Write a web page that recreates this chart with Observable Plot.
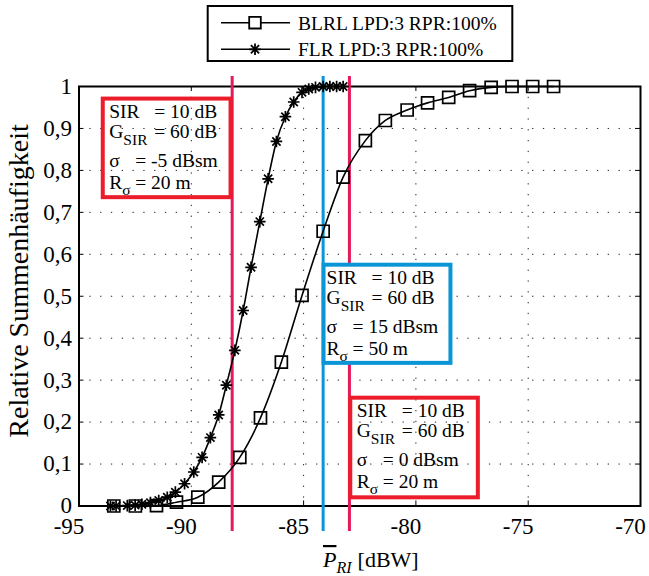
<!DOCTYPE html>
<html><head><meta charset="utf-8">
<script src="https://cdn.jsdelivr.net/npm/d3@7"></script>
<script src="https://cdn.jsdelivr.net/npm/@observablehq/plot@0.6"></script>
<style>body{margin:0;background:#fff}</style>
</head><body><div id="chart"></div>
<script>
// ---------- data ----------
const seriesNames = ["BLRL LPD:3 RPR:100%", "FLR LPD:3 RPR:100%"];
const blrlX = [-93.45, -92.49, -91.55, -90.66, -89.71, -88.78, -87.84, -86.92, -85.99, -85.07, -84.13, -83.24, -82.25, -81.36, -80.39, -79.48, -78.54, -77.61, -76.65, -75.72, -74.80, -73.87];
const blrlY = [0, 0, 0.001, 0.009, 0.021, 0.057, 0.116, 0.210, 0.343, 0.502, 0.655, 0.784, 0.871, 0.919, 0.944, 0.961, 0.974, 0.990, 0.998, 1, 1, 1];
const flrX = [-93.6, -93.35, -92.85, -92.5, -92.2, -91.82, -91.45, -91.07, -90.71, -90.30, -89.89, -89.52, -89.15, -88.78, -88.44, -88.06, -87.69, -87.34, -86.95, -86.58, -86.21, -85.81, -85.44, -85.07, -84.77, -84.47, -84.13, -83.83, -83.53, -83.24];
const flrY = [0, 0, 0.001, 0.002, 0.004, 0.008, 0.013, 0.021, 0.033, 0.053, 0.081, 0.116, 0.163, 0.217, 0.288, 0.371, 0.466, 0.569, 0.678, 0.780, 0.869, 0.928, 0.963, 0.986, 0.994, 0.998, 1, 1, 1, 1];

const xTicks = [-95, -90, -85, -80, -75, -70];
const xTickLabels = ["-95", "-90", "-85", "-80", "-75", "-70"];
const yTicks = [0, 0.1, 0.2, 0.3, 0.4, 0.5, 0.6, 0.7, 0.8, 0.9, 1];
const yTickLabels = ["0", "0,1", "0,2", "0,3", "0,4", "0,5", "0,6", "0,7", "0,8", "0,9", "1"];
const yLabel = "Relative Summenhäufigkeit";

// vertical marker lines (x in dBW) and their vertical extent
const markerX = [-88.18, -84.13, -82.96];
const markerKind = ["red", "blue", "red"];
const markerY1 = [-0.061, -0.061, -0.061];
const markerY2 = [1.024, 1.024, 1.024];

// annotation boxes
const boxX1 = [-93.92, -84.09, -82.90];
const boxX2 = [-88.23, -78.44, -77.22];
const boxY1 = [0.970, 0.574, 0.257];
const boxY2 = [0.735, 0.340, 0.0195];
const boxKind = ["red", "blue", "red"];
const sirDb = ["10", "10", "10"];
const gsirDb = ["60", "60", "60"];
const sigmaDbsm = ["-5", "15", "0"];
const rSigmaM = ["20", "50", "20"];

// ---------- styles ----------
const serif = "'Liberation Serif','Times New Roman',Times,serif";
const colors = {red: "#ec1c2a", blue: "#0a96d6"};
const lineColors = {red: "#e6195a", blue: "#0a96d6"};

const blrl = blrlX.map((x, i) => ({x, y: blrlY[i]}));
const flr = flrX.map((x, i) => ({x, y: flrY[i]}));
const markers = markerX.map((x, i) => ({x, y1: markerY1[i], y2: markerY2[i], kind: markerKind[i]}));
const boxes = boxX1.map((x1, i) => ({x1, x2: boxX2[i], y1: boxY1[i], y2: boxY2[i], kind: boxKind[i]}));

const squareSymbol = {draw(ctx, size) { const h = Math.sqrt(size / Math.PI); ctx.moveTo(-h, -h); ctx.lineTo(h, -h); ctx.lineTo(h, h); ctx.lineTo(-h, h); ctx.closePath(); }};
const starSymbol = {draw(ctx, size) { const r = Math.sqrt(size / Math.PI); const d = r * Math.SQRT1_2;
  ctx.moveTo(0, -r); ctx.lineTo(0, r); ctx.moveTo(-r, 0); ctx.lineTo(r, 0);
  ctx.moveTo(-d, -d); ctx.lineTo(d, d); ctx.moveTo(-d, d); ctx.lineTo(d, -d); }};

function symbolPath(sym, r) { const p = d3.path(); sym.draw(p, r * r * Math.PI); return p.toString(); }

// box texts
function boxTexts(index, scales) {
  const g = d3.create("svg:g").attr("font-family", serif).attr("font-size", 19.5).attr("fill", "black").attr("text-anchor", "start");
  const pads = [8.5, 5, 8.5];
  boxes.forEach((b, k) => {
    const left = scales.x(b.x1) - 2 + pads[k];
    const top = scales.y(b.y1) - 2;
    const rows = [
      {base: 21, parts: [["SIR"]], eqAt: 45, eq: "= " + sirDb[k] + " dB"},
      {base: 41.5, parts: [["G"], ["SIR", true]], eqAt: 45, eq: "= " + gsirDb[k] + " dB"},
      {base: 70.5, parts: [["σ"]], eqAt: 26, eq: "= " + sigmaDbsm[k] + " dBsm"},
      {base: 92, parts: [["R"], ["σ", true]], eqAt: 26, eq: "= " + rSigmaM[k] + " m"}
    ];
    rows.forEach(row => {
      const t = g.append("text").attr("x", left).attr("y", top + row.base);
      row.parts.forEach(([s, sub]) => {
        const ts = t.append("tspan").text(s);
        if (sub) ts.attr("font-size", 15.5).attr("y", top + row.base + 6.5);
        else ts.attr("y", top + row.base);
      });
      t.append("tspan").attr("x", left + row.eqAt).attr("y", top + row.base).text(row.eq);
    });
  });
  return g.node();
}

function legend() {
  const g = d3.create("svg:g").attr("font-family", serif).attr("font-size", 19.5).attr("text-anchor", "start");
  g.append("rect").attr("x", 207.7).attr("y", 6).attr("width", 304.6).attr("height", 55)
    .attr("fill", "white").attr("stroke", "black").attr("stroke-width", 2);
  const rowsY = [22.7, 49.3];
  const syms = [squareSymbol, starSymbol];
  const rs = [5.8, 5.8];
  seriesNames.forEach((name, i) => {
    g.append("line").attr("x1", 221).attr("x2", 290).attr("y1", rowsY[i]).attr("y2", rowsY[i]).attr("stroke", "black").attr("stroke-width", 1.6);
    g.append("path").attr("d", symbolPath(syms[i], rs[i])).attr("transform", `translate(255,${rowsY[i]})`)
      .attr("fill", i === 0 ? "white" : "none").attr("stroke", "black").attr("stroke-width", 1.8);
    g.append("text").attr("x", 298).attr("y", rowsY[i] + 6.8).text(name);
  });
  return g.node();
}

function axisLabels() {
  const g = d3.create("svg:g").attr("font-family", serif).attr("fill", "black").attr("text-anchor", "start");
  const t = g.append("text").attr("x", 323).attr("y", 567).attr("font-size", 22);
  t.append("tspan").attr("font-style", "italic").style("text-decoration", "overline").text("P");
  t.append("tspan").attr("font-style", "italic").attr("font-size", 16).attr("dy", 6).text("RI");
  t.append("tspan").attr("dy", -6).attr("dx", 6).text("[dBW]");
  g.append("text").attr("transform", "translate(28,281) rotate(-90)").attr("text-anchor", "middle")
    .attr("font-size", 28).text(yLabel);
  return g.node();
}

const gridX = xTicks.slice(1, -1);
const gridY = yTicks.slice(1, -1);

const chart = Plot.plot({
  width: 649, height: 576,
  marginLeft: 78.5, marginRight: 9, marginTop: 86, marginBottom: 70.5,
  style: {fontFamily: serif, fontSize: "23px", color: "black", background: "white"},
  x: {domain: [-95, -70], axis: null},
  y: {domain: [0, 1], axis: null},
  marks: [
    Plot.ruleX(gridX, {stroke: "#222", strokeWidth: 1, strokeDasharray: "1.3,9.5"}),
    Plot.ruleY(gridY, {stroke: "#222", strokeWidth: 1, strokeDasharray: "1.3,9.5"}),
    // inward ticks
    Plot.ruleX(gridX, {y1: 0, y2: 0.012, stroke: "black", strokeWidth: 1}),
    Plot.ruleX(gridX, {y1: 1, y2: 0.988, stroke: "black", strokeWidth: 1}),
    Plot.ruleY(gridY, {x1: -95, x2: -94.78, stroke: "black", strokeWidth: 1}),
    Plot.ruleY(gridY, {x1: -70, x2: -70.22, stroke: "black", strokeWidth: 1}),
    // tick labels
    Plot.text(xTicks, {x: d => d, y: 0, text: (d, i) => xTickLabels[i], dy: 21, dx: -10, fill: "black"}),
    Plot.text(yTicks, {x: -95, y: d => d, text: (d, i) => yTickLabels[i], textAnchor: "end", dx: -7, fill: "black"}),
    Plot.frame({stroke: "black", strokeWidth: 2}),
    Plot.ruleX(markers, {x: "x", y1: "y1", y2: "y2", stroke: d => lineColors[d.kind], strokeWidth: 3}),
    Plot.rect(boxes, {x1: "x1", x2: "x2", y1: "y1", y2: "y2", stroke: d => colors[d.kind], strokeWidth: 4, fill: d => d.kind === "blue" ? "white" : "none"}),
    boxTexts,
    Plot.line(blrl, {x: "x", y: "y", curve: "monotone-x", stroke: "black", strokeWidth: 1.6}),
    Plot.line(flr, {x: "x", y: "y", curve: "monotone-x", stroke: "black", strokeWidth: 1.6}),
    Plot.dot(blrl, {x: "x", y: "y", symbol: squareSymbol, r: 6, fill: "none", stroke: "black", strokeWidth: 1.7}),
    Plot.dot(flr, {x: "x", y: "y", symbol: starSymbol, r: 5.8, fill: "none", stroke: "black", strokeWidth: 1.7}),
    legend,
    axisLabels
  ]
});
document.getElementById("chart").appendChild(chart);
</script>
</body></html>
